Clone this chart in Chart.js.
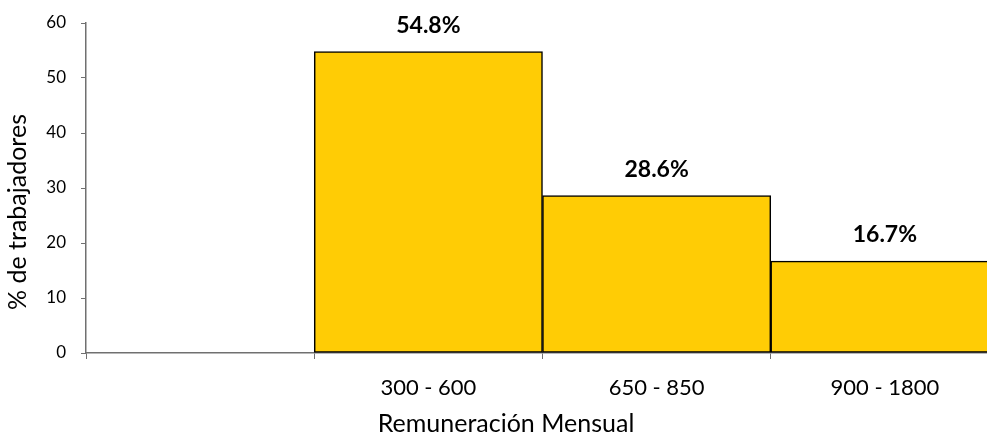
<!DOCTYPE html>
<html>
<head>
<meta charset="utf-8">
<script src="https://cdn.jsdelivr.net/npm/chart.js@4/dist/chart.umd.min.js"></script>
<style>
  html, body { margin: 0; padding: 0; background: #fff; overflow: hidden; }
  canvas { display: block; }
</style>
</head>
<body>
<canvas id="chart" width="1000" height="435"></canvas>
<script>
// Salary bands (soles) and share of workers in each band
const categories = ['', '300 - 600', '650 - 850', '900 - 1800'];
const workerShare = [null, 54.8, 28.6, 16.7];
const yTicks = [0, 10, 20, 30, 40, 50, 60];
const xTitle = 'Remuneración Mensual';
const yTitle = '% de trabajadores';

const FONT = 'Lato, "Open Sans", sans-serif';

// Writes the percentage above each bar
const barValueLabels = {
  id: 'barValueLabels',
  afterDatasetsDraw(chart) {
    const ctx = chart.ctx;
    const meta = chart.getDatasetMeta(0);
    ctx.save();
    ctx.font = 'bold 23px ' + FONT;
    ctx.fillStyle = '#000';
    ctx.textAlign = 'center';
    ctx.textBaseline = 'alphabetic';
    meta.data.forEach((bar, i) => {
      const v = workerShare[i];
      if (v === null || v === undefined) return;
      ctx.fillText(v.toFixed(1) + '%', bar.x, bar.y - 19);
    });
    ctx.restore();
  }
};

// Axis titles, placed relative to the plot area
const axisTitles = {
  id: 'axisTitles',
  afterDraw(chart) {
    const { ctx, chartArea } = chart;
    ctx.save();
    ctx.font = '25px ' + FONT;
    ctx.fillStyle = '#000';
    ctx.textAlign = 'center';
    ctx.textBaseline = 'middle';
    ctx.fillText(xTitle, chartArea.left + 420, chartArea.bottom + 71);
    ctx.translate(18, chartArea.bottom - 141);
    ctx.rotate(-Math.PI / 2);
    ctx.fillText(yTitle, 0, 0);
    ctx.restore();
  }
};

new Chart(document.getElementById('chart'), {
  type: 'bar',
  data: {
    labels: categories,
    datasets: [{
      data: workerShare,
      backgroundColor: '#FFCC05',
      borderColor: '#000000',
      borderWidth: 1.5,
      borderSkipped: false,
      categoryPercentage: 1.0,
      barPercentage: 1.0
    }]
  },
  options: {
    responsive: false,
    animation: false,
    layout: { padding: { top: 23, right: 1, left: 0, bottom: 0 } },
    plugins: {
      legend: { display: false },
      tooltip: { enabled: false }
    },
    scales: {
      x: {
        grid: {
          offset: true,
          drawOnChartArea: false,
          drawTicks: true,
          tickLength: 6,
          color: '#707070'
        },
        border: { display: true, color: '#707070', width: 1.5 },
        ticks: {
          color: '#000',
          font: { family: FONT, size: 22 },
          padding: 16,
          maxRotation: 0
        },
        afterFit(scale) { scale.height = 82; }
      },
      y: {
        min: 0,
        max: 60,
        afterBuildTicks(scale) { scale.ticks = yTicks.map(v => ({ value: v })); },
        grid: {
          drawOnChartArea: false,
          drawTicks: true,
          tickLength: 5,
          color: '#707070'
        },
        border: { display: true, color: '#707070', width: 1.5 },
        ticks: {
          color: '#000',
          font: { family: FONT, size: 17 },
          padding: 15
        },
        afterFit(scale) {
          scale.width = 86;
          scale.paddingTop = 0;
          scale.paddingBottom = 0;
        }
      }
    }
  },
  plugins: [barValueLabels, axisTitles]
});
</script>
</body>
</html>
